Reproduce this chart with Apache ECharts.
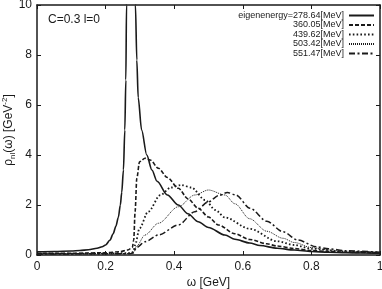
<!DOCTYPE html>
<html>
<head>
<meta charset="utf-8">
<script src="https://cdn.jsdelivr.net/npm/echarts@6/dist/echarts.min.js"></script>
<style>
html,body{margin:0;padding:0;background:#fff;}
#chart{width:382px;height:289px;}
</style>
</head>
<body>
<div id="chart"></div>
<script>
// ---- data ----
const legendNames = ['eigenenergy=278.64[MeV]', '360.05[MeV]', '439.62[MeV]', '503.42[MeV]', '551.47[MeV]'];
const xTicks = [0, 0.2, 0.4, 0.6, 0.8, 1];
const yTicks = [0, 2, 4, 6, 8, 10];

const omega1 = [0, 0.05, 0.1, 0.125, 0.15, 0.175, 0.19, 0.2, 0.213, 0.222, 0.23, 0.237, 0.243, 0.247, 0.252, 0.256, 0.259, 0.261, 0.266, 0.275, 0.283, 0.287, 0.291, 0.295, 0.305, 0.32, 0.335, 0.35, 0.38, 0.412, 0.44, 0.47, 0.5, 0.548, 0.577, 0.62, 0.65, 0.7, 0.75, 0.8, 0.85, 0.9, 0.95, 1.0];
const rho1   = [0.13, 0.14, 0.16, 0.18, 0.21, 0.27, 0.33, 0.4, 0.6, 0.85, 1.15, 1.5, 2.0, 2.5, 3.4, 5, 7, 10, 16, 30, 18, 10, 7.8, 6.3, 5, 4, 3.4, 2.95, 2.4, 2.0, 1.65, 1.33, 1.1, 0.8, 0.63, 0.48, 0.38, 0.27, 0.2, 0.14, 0.11, 0.09, 0.08, 0.07];

const omega2 = [0, 0.1, 0.2, 0.24, 0.265, 0.278, 0.282, 0.286, 0.291, 0.299, 0.315, 0.33, 0.354, 0.38, 0.412, 0.44, 0.47, 0.5, 0.529, 0.577, 0.62, 0.67, 0.7, 0.75, 0.8, 0.85, 0.9, 0.95, 1.0];
const rho2   = [0.07, 0.07, 0.09, 0.13, 0.2, 0.3, 0.6, 1.73, 3.07, 3.73, 3.87, 3.8, 3.47, 3.1, 2.67, 2.25, 1.87, 1.52, 1.2, 0.85, 0.62, 0.45, 0.36, 0.26, 0.18, 0.14, 0.11, 0.1, 0.09];

const omega3 = [0, 0.2, 0.27, 0.281, 0.286, 0.299, 0.324, 0.36, 0.39, 0.42, 0.45, 0.49, 0.52, 0.548, 0.62, 0.7, 0.75, 0.8, 0.9, 1.0];
const rho3   = [0.05, 0.06, 0.08, 0.12, 0.4, 1.07, 1.73, 2.4, 2.7, 2.8, 2.7, 2.2, 1.8, 1.5, 1.05, 0.55, 0.4, 0.25, 0.13, 0.1];

const omega4 = [0, 0.27, 0.281, 0.29, 0.315, 0.354, 0.412, 0.46, 0.5, 0.548, 0.577, 0.62, 0.67, 0.717, 0.75, 0.8, 0.85, 0.9, 1.0];
const rho4   = [0.05, 0.06, 0.1, 0.35, 0.8, 1.27, 1.93, 2.4, 2.6, 2.4, 2.05, 1.45, 0.95, 0.67, 0.5, 0.3, 0.2, 0.15, 0.1];

const omega5 = [0, 0.27, 0.281, 0.29, 0.315, 0.354, 0.412, 0.46, 0.5, 0.53, 0.555, 0.58, 0.621, 0.67, 0.717, 0.76, 0.815, 0.85, 0.9, 1.0];
const rho5   = [0.04, 0.05, 0.08, 0.3, 0.53, 0.8, 1.2, 1.73, 2.13, 2.38, 2.5, 2.4, 1.87, 1.35, 0.93, 0.6, 0.33, 0.25, 0.17, 0.11];

const zip = (a, b) => a.map((x, i) => [x, b[i]]);
const FONT = '"Liberation Sans", Arial, sans-serif';
const INK = '#1a1a1a';

const styles = [
  {width: 1.6, type: 'solid'},
  {width: 1.6, type: [4, 2]},
  {width: 1.8, type: [1.6, 2.2]},
  {width: 1.0, type: [1, 1]},
  {width: 1.5, type: [6, 2.5, 2, 2.5]}
];
const datasets = [zip(omega1, rho1), zip(omega2, rho2), zip(omega3, rho3), zip(omega4, rho4), zip(omega5, rho5)];

const chart = echarts.init(document.getElementById('chart'), null, {renderer: 'canvas'});
const axisCommon = {
  axisLine: {show: true, onZero: false, lineStyle: {color: INK, width: 1.5}},
  axisTick: {show: true, inside: true, length: 4, lineStyle: {color: INK, width: 1}},
  splitLine: {show: false}
};
chart.setOption({
  animation: false,
  backgroundColor: '#fff',
  textStyle: {fontFamily: FONT},
  grid: {left: 37, right: 2, top: 5, bottom: 34, containLabel: false, outerBoundsMode: 'none'},
  title: {
    text: 'C=0.3 l=0', left: 43, top: 9,
    textStyle: {fontFamily: FONT, fontSize: 12, fontWeight: 'normal', color: INK}
  },
  legend: {
    data: legendNames, orient: 'vertical', align: 'right', right: 2, top: 6,
    itemWidth: 25, itemHeight: 8, itemGap: 0.5,
    textStyle: {fontFamily: FONT, fontSize: 9, color: INK, lineHeight: 8},
    itemStyle: {opacity: 0, borderWidth: 0}
  },
  xAxis: [
    Object.assign({
      type: 'value', min: 0, max: 1, interval: 0.2, position: 'bottom',
      name: 'ω [GeV]', nameLocation: 'middle', nameGap: 22, nameMoveOverlap: false,
      nameTextStyle: {fontFamily: FONT, fontSize: 12, color: INK},
      axisLabel: {fontFamily: FONT, fontSize: 12, color: INK, margin: 6,
        formatter: v => xTicks.includes(+v.toFixed(1)) ? String(+v.toFixed(1)) : ''}
    }, axisCommon),
    Object.assign({
      type: 'value', min: 0, max: 1, interval: 0.2, position: 'top',
      axisLabel: {show: false}
    }, axisCommon)
  ],
  yAxis: [
    Object.assign({
      type: 'value', min: 0, max: 10, interval: 2, position: 'left',
      name: '{a|ρ}{s|nl}{a|(ω) [GeV}{p|-2}{a|]}', nameLocation: 'middle', nameGap: 20, nameRotate: 90,
      nameMoveOverlap: false,
      nameTextStyle: {
        fontFamily: FONT, fontSize: 12, color: INK,
        rich: {
          a: {fontFamily: FONT, fontSize: 12, color: INK, lineHeight: 16, verticalAlign: 'middle'},
          s: {fontFamily: FONT, fontSize: 8, color: INK, lineHeight: 16, verticalAlign: 'bottom'},
          p: {fontFamily: FONT, fontSize: 8, color: INK, lineHeight: 16, verticalAlign: 'top'}
        }
      },
      axisLabel: {fontFamily: FONT, fontSize: 12, color: INK, margin: 5,
        formatter: v => yTicks.includes(v) ? String(v) : ''}
    }, axisCommon),
    Object.assign({
      type: 'value', min: 0, max: 10, interval: 2, position: 'right',
      axisLabel: {show: false}
    }, axisCommon)
  ],
  series: datasets.map((d, i) => ({
    name: legendNames[i], type: 'line', data: d, xAxisIndex: 0, yAxisIndex: 0,
    symbol: 'none', smooth: 0.3, smoothMonotone: 'x', clip: true,
    lineStyle: {color: INK, width: styles[i].width, type: styles[i].type},
    itemStyle: {color: INK}
  }))
});
</script>
</body>
</html>
